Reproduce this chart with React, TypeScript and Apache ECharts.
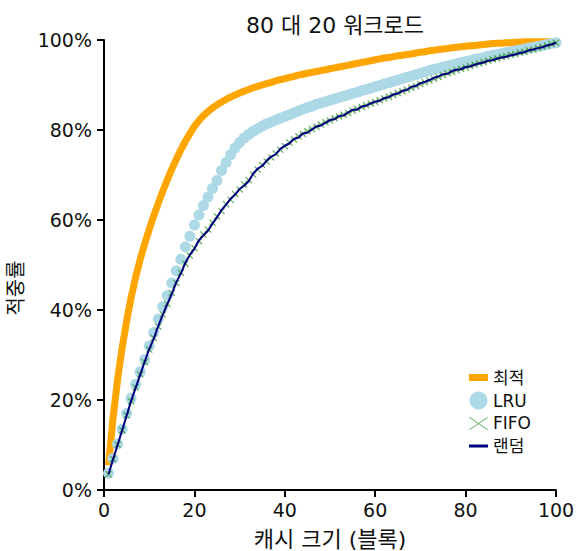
import React, { useEffect, useRef } from "react";
import * as echarts from "echarts";

const titleText = "80 대 20 워크로드";
const xAxisName = "캐시 크기 (블록)";
const yAxisName = "적중률";
const seriesNames = ["최적", "LRU", "FIFO", "랜덤"];

// hit rate (%) for cache sizes 1..100
const optimalHits = [
  5.5, 16, 24.5, 31.5, 37.5, 42.8, 47.3, 51.2, 54.7, 57.9,
  60.9, 63.7, 66.4, 68.9, 71.3, 73.5, 75.6, 77.5, 79.2, 80.8,
  82.1, 83.2, 84.1, 84.9, 85.6, 86.2, 86.8, 87.3, 87.8, 88.2,
  88.6, 89, 89.4, 89.7, 90, 90.3, 90.6, 90.9, 91.2, 91.4,
  91.7, 91.9, 92.2, 92.4, 92.6, 92.8, 93, 93.2, 93.4, 93.6,
  93.8, 94, 94.2, 94.4, 94.6, 94.8, 95, 95.2, 95.4, 95.6,
  95.8, 96, 96.1, 96.3, 96.5, 96.6, 96.8, 96.9, 97.1, 97.3,
  97.4, 97.6, 97.7, 97.9, 98, 98.1, 98.3, 98.4, 98.5, 98.6,
  98.7, 98.8, 98.9, 99, 99.1, 99.2, 99.3, 99.3, 99.4, 99.4,
  99.5, 99.5, 99.6, 99.6, 99.6, 99.6, 99.6, 99.6, 99.6, 99.6,
];

const lruHits = [
  3.7, 7, 10.2, 13.5, 17, 20.4, 23.5, 26.3, 29, 32,
  35, 38, 40.7, 43.2, 46, 48.7, 51.3, 54, 56.4, 58.9,
  61.1, 63.2, 65.1, 67, 68.8, 71, 72.8, 74.5, 76, 77.2,
  78.2, 79, 79.7, 80.3, 80.9, 81.4, 81.8, 82.2, 82.6, 83,
  83.4, 83.8, 84.2, 84.6, 85, 85.3, 85.7, 86, 86.3, 86.6,
  86.9, 87.2, 87.5, 87.8, 88.1, 88.4, 88.7, 89, 89.3, 89.6,
  89.9, 90.2, 90.5, 90.8, 91.1, 91.4, 91.7, 92, 92.3, 92.6,
  92.9, 93.2, 93.5, 93.7, 94, 94.2, 94.5, 94.7, 95, 95.2,
  95.4, 95.7, 95.9, 96.1, 96.4, 96.6, 96.8, 97, 97.2, 97.4,
  97.6, 97.8, 98, 98.2, 98.4, 98.6, 98.8, 99, 99.2, 99.4,
];

const fifoHits = [
  3.5, 6.9, 10.1, 13.3, 16.6, 19.7, 22.8, 25.7, 28.4, 31.2,
  33.8, 36.3, 39, 41.4, 43.8, 46, 48.3, 50.3, 52.1, 53.8,
  55.3, 56.8, 57.9, 59.4, 60.8, 62, 63.5, 64.5, 65.8, 66.8,
  67.9, 68.9, 70.1, 71.2, 72.2, 73, 73.9, 74.8, 75.6, 76.4,
  77.2, 77.9, 78.6, 79.1, 79.7, 80.2, 80.7, 81.2, 81.7, 82.1,
  82.6, 83, 83.4, 83.8, 84.3, 84.7, 85.1, 85.5, 85.9, 86.2,
  86.6, 87, 87.4, 87.8, 88.2, 88.6, 89, 89.4, 89.8, 90.2,
  90.6, 91, 91.4, 91.8, 92.2, 92.6, 92.9, 93.3, 93.6, 93.9,
  94.2, 94.5, 94.8, 95.1, 95.4, 95.7, 95.9, 96.2, 96.4, 96.7,
  96.9, 97.2, 97.4, 97.7, 97.9, 98.2, 98.5, 98.8, 99.1, 99.4,
];

const randomHits = [
  3.5, 6.8, 10, 13.2, 16.5, 19.8, 22.7, 25.6, 28.5, 31.3,
  33.6, 36.4, 38.9, 41.3, 43.6, 46.2, 48.1, 50.5, 52.3, 53.6,
  55.5, 56.6, 57.6, 59.2, 60.6, 62.2, 63.4, 64.7, 65.6, 66.9,
  67.6, 68.6, 70.3, 71.4, 72, 73.2, 74.1, 74.6, 75.8, 76.5,
  77, 78, 78.3, 79.2, 79.4, 80.1, 80.8, 81, 81.6, 82.2,
  82.4, 83.1, 83.2, 83.9, 84.5, 84.5, 85.2, 85.4, 85.9, 86.3,
  86.5, 87.1, 87.3, 87.9, 88.1, 88.7, 88.9, 89.6, 89.8, 90.4,
  90.7, 91.1, 91.6, 91.9, 92.4, 92.5, 93.1, 93.4, 93.5, 94,
  94.1, 94.5, 94.8, 95, 95.4, 95.5, 95.9, 96.1, 96.3, 96.6,
  96.8, 97.1, 97.3, 97.7, 97.9, 98.2, 98.4, 98.8, 99, 99.4,
];

const pairs = (arr: number[]) => arr.map((v, i) => [i + 1, v]);

const X_PATH =
  "path://M0,1.2 L1.2,0 L10,8.8 L8.8,10 Z M8.8,0 L10,1.2 L1.2,10 L0,8.8 Z";

export default function App() {
  const ref = useRef<HTMLDivElement>(null);
  useEffect(() => {
    if (!ref.current) return;
    const chart = echarts.init(ref.current, undefined, { renderer: "svg" });
    const latin = "'DejaVu Sans', 'Noto Sans CJK KR', sans-serif";
    const kr = "'DejaVu Sans', 'Noto Sans CJK KR', sans-serif";
    chart.setOption({
      animation: false,
      backgroundColor: "#ffffff",
      title: {
        text: titleText,
        left: 330,
        textAlign: "center",
        top: 9,
        textStyle: { fontFamily: kr, fontSize: 22, fontWeight: "normal", color: "#111" },
      },
      grid: {
        left: 104,
        right: 20,
        top: 40,
        bottom: 61,
        containLabel: false,
        outerBoundsMode: "none",
      },
      xAxis: {
        type: "value",
        min: 0,
        max: 100,
        interval: 20,
        name: xAxisName,
        nameLocation: "middle",
        nameGap: 38,
        nameTextStyle: { fontFamily: kr, fontSize: 22, color: "#111" },
        axisLine: { lineStyle: { color: "#000", width: 2 } },
        axisTick: { length: 7, lineStyle: { color: "#000", width: 2 } },
        axisLabel: { fontFamily: latin, fontSize: 19, color: "#111", margin: 10 },
        splitLine: { show: false },
      },
      yAxis: {
        type: "value",
        min: 0,
        max: 100,
        interval: 20,
        name: yAxisName,
        nameLocation: "middle",
        nameGap: 78,
        nameRotate: 90,
        nameTextStyle: { fontFamily: kr, fontSize: 20, color: "#111", padding: [0, 46, 0, 0] },
        axisLine: { show: true, lineStyle: { color: "#000", width: 2 } },
        axisTick: { show: true, length: 7, lineStyle: { color: "#000", width: 2 } },
        axisLabel: { fontFamily: latin, fontSize: 19, color: "#111", margin: 12, formatter: "{value}%" },
        splitLine: { show: false },
      },
      legend: {
        left: 464,
        top: 364,
        orient: "vertical",
        itemWidth: 19,
        itemHeight: 18,
        itemGap: 5.5,
        textStyle: { fontFamily: kr, fontSize: 17, color: "#111" },
        data: [
          { name: seriesNames[0], icon: "path://M0,0H19V7H0Z" },
          { name: seriesNames[1], icon: "circle" },
          { name: seriesNames[2], icon: "path://M0,0.6 L0.8,0 L19,12.4 L18.2,13 Z M18.2,0 L19,0.6 L0.8,13 L0,12.4 Z" },
          { name: seriesNames[3], icon: "path://M0,0H19V3H0Z" },
        ],
      },
      series: [
        {
          name: seriesNames[0],
          type: "line",
          data: pairs(optimalHits),
          showSymbol: false,
          symbol: "none",
          smooth: false,
          color: "#ffa500",
          lineStyle: { color: "#ffa500", width: 7 },
          itemStyle: { color: "#ffa500" },
          z: 2,
        },
        {
          name: seriesNames[1],
          type: "scatter",
          data: pairs(lruHits),
          symbol: "circle",
          symbolSize: 11,
          color: "#add8e6",
          itemStyle: { color: "#add8e6", opacity: 1 },
          z: 3,
        },
        {
          name: seriesNames[2],
          type: "scatter",
          data: pairs(fifoHits),
          symbol: X_PATH,
          symbolSize: 7,
          color: "#3a9a3a",
          itemStyle: { color: "#3a9a3a" },
          z: 4,
        },
        {
          name: seriesNames[3],
          type: "line",
          data: pairs(randomHits),
          showSymbol: false,
          symbol: "none",
          color: "#00007f",
          lineStyle: { color: "#00007f", width: 2 },
          itemStyle: { color: "#00007f" },
          z: 5,
        },
      ],
    });
    return () => chart.dispose();
  }, []);
  return (
    <div
      ref={ref}
      style={{ position: "fixed", left: 0, top: 0, width: 576, height: 551 }}
    />
  );
}
